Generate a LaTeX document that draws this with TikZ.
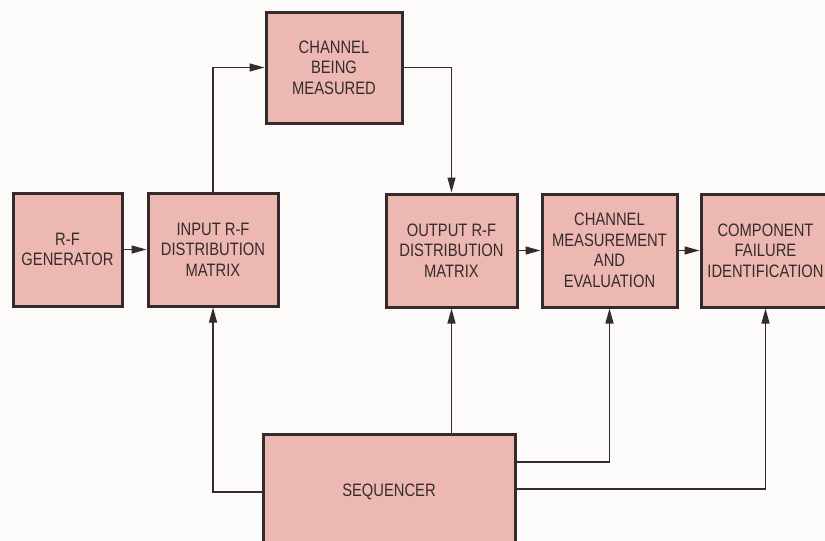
\documentclass[tikz,border=0pt]{standalone}
\usepackage{fontspec}
\setmainfont[FakeStretch=0.82]{Liberation Sans}
\usetikzlibrary{arrows.meta}
\definecolor{boxfill}{RGB}{238,184,178}
\definecolor{ink}{RGB}{52,44,44}
\definecolor{paper}{RGB}{252,251,249}
\tikzset{
  blk/.style={draw=ink, line width=3pt, fill=boxfill, text=ink, align=center,
    inner sep=0pt, font=\fontsize{18}{20.5}\selectfont},
  conn/.style={draw=ink, line width=1.2pt, -{Triangle[length=15pt,width=8pt]}},
}
\begin{document}
\begin{tikzpicture}[x=1pt,y=-1pt]
\useasboundingbox (0,0) rectangle (825,541);
\fill[paper] (0,0) rectangle (825,541);
\begin{scope}
\clip (0,0) rectangle (825,541);
\node[blk, minimum width=109pt, minimum height=113pt] (gen) at (67.5,249.5) {R-F\\GENERATOR};
\node[blk, minimum width=130pt, minimum height=113pt] (inp) at (213,249.5) {INPUT R-F\\DISTRIBUTION\\MATRIX};
\node[blk, minimum width=136pt, minimum height=111pt] (chan) at (334,67.5) {CHANNEL\\BEING\\MEASURED};
\node[blk, minimum width=131pt, minimum height=113pt] (out) at (451.5,250.5) {OUTPUT R-F\\DISTRIBUTION\\MATRIX};
\node[blk, minimum width=135pt, minimum height=113pt] (meas) at (609.5,250.5) {CHANNEL\\MEASUREMENT\\AND\\EVALUATION};
\node[blk, minimum width=129pt, minimum height=113pt] (comp) at (765.5,250.5) {COMPONENT\\FAILURE\\IDENTIFICATION};
\node[blk, minimum width=252pt, minimum height=116pt] (seq) at (389,492) {SEQUENCER};

\draw[conn] (gen.east) -- (inp.west);
\draw[conn] (inp.north) |- (chan.west);
\draw[conn] (chan.east) -| (out.north);
\draw[conn] (out.east |- meas.west) -- (meas.west);
\draw[conn] (meas.east) -- (comp.west);
\draw[conn] (seq.west) -| (inp.south);
\draw[conn] (seq.north -| out.south) -- (out.south);
\draw[conn] (seq.east |- 0,462) -| (meas.south);
\draw[conn] (seq.east |- 0,489) -| (comp.south);
\end{scope}
\end{tikzpicture}
\end{document}
